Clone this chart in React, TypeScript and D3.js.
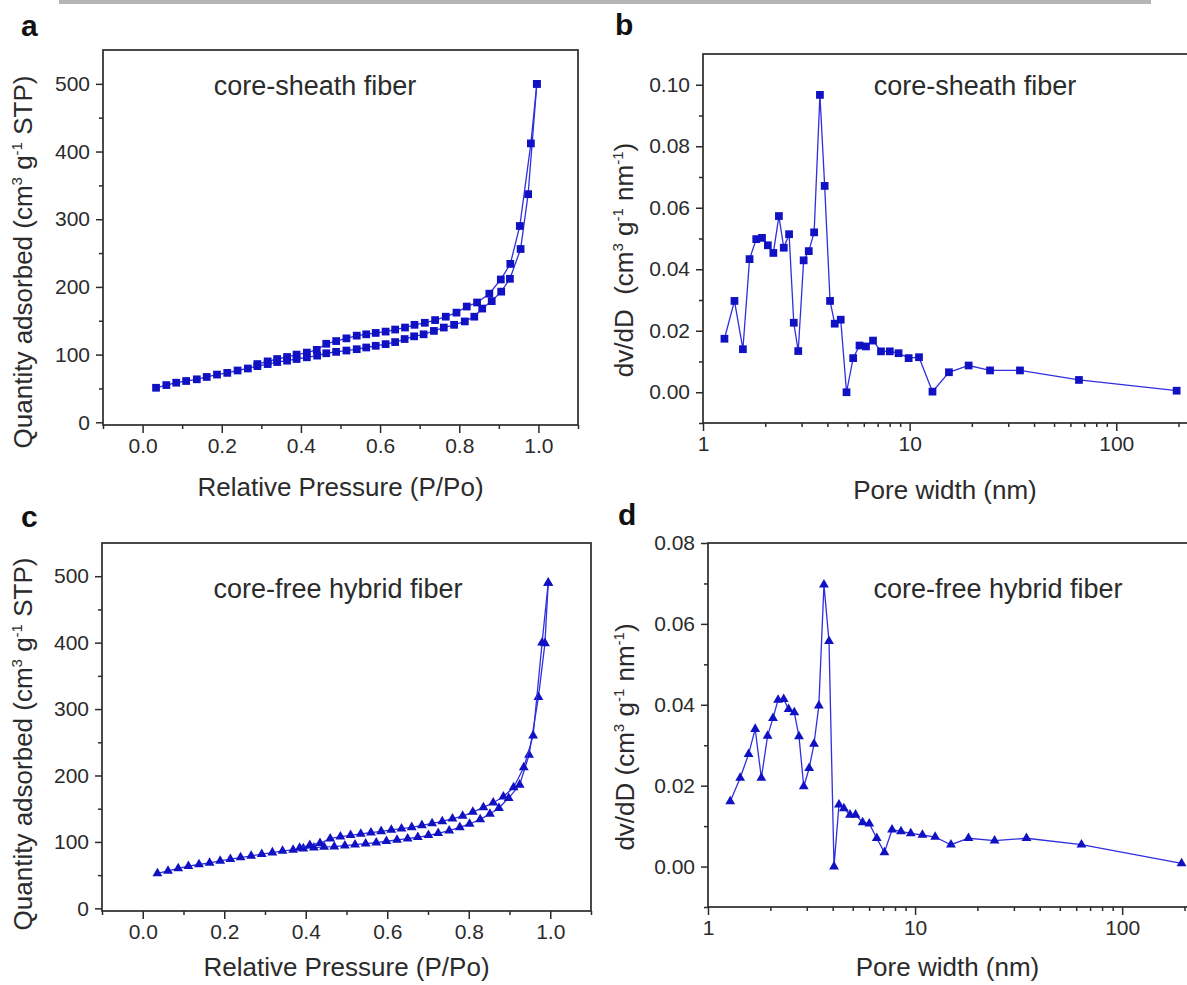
import React, { useRef, useEffect } from "react";
import * as d3 from "d3";

// ---- a: core-sheath fiber, N2 isotherm ----
const aAdsP = [0.034, 0.06, 0.085, 0.11, 0.137, 0.162, 0.188, 0.214, 0.24, 0.266, 0.29, 0.316, 0.34, 0.365, 0.389, 0.415, 0.441, 0.464, 0.489, 0.515, 0.541, 0.565, 0.589, 0.614, 0.638, 0.662, 0.686, 0.71, 0.736, 0.761, 0.787, 0.814, 0.838, 0.858, 0.882, 0.906, 0.928, 0.955, 0.974, 0.996];
const aAdsQ = [51, 55, 58.5, 61, 63.5, 67, 70.5, 73, 76.5, 79.5, 83, 86, 89, 91, 93.5, 96, 98.5, 102, 104, 106, 108, 110.5, 113, 115.5, 118.5, 123, 127, 130, 135, 140, 144, 149, 156, 168, 179, 193, 212, 256, 337, 500];
const aDesP = [0.996, 0.981, 0.953, 0.929, 0.905, 0.876, 0.845, 0.819, 0.793, 0.766, 0.739, 0.713, 0.687, 0.663, 0.638, 0.614, 0.589, 0.565, 0.541, 0.515, 0.489, 0.464, 0.44, 0.415, 0.389, 0.365, 0.34, 0.316, 0.29];
const aDesQ = [500, 412, 290, 234, 211, 190, 177, 171, 162, 156, 151, 147, 144, 140, 137, 134, 132, 130, 128, 124, 120, 116, 107, 103, 100, 96.5, 93.5, 90, 86];

// ---- c: core-free hybrid fiber, N2 isotherm ----
const cAdsP = [0.036, 0.062, 0.087, 0.112, 0.138, 0.164, 0.19, 0.215, 0.24, 0.266, 0.292, 0.318, 0.343, 0.369, 0.394, 0.42, 0.445, 0.47, 0.496, 0.521, 0.547, 0.573, 0.598, 0.624, 0.65, 0.675, 0.701, 0.725, 0.752, 0.778, 0.802, 0.828, 0.852, 0.874, 0.898, 0.925, 0.948, 0.971, 0.987, 0.995];
const cAdsQ = [52.5, 56.5, 60, 63.5, 66, 68.5, 71.5, 74, 76.5, 79, 81.5, 84, 86.5, 88, 90, 91.5, 92.5, 93, 94.5, 96, 97.5, 99, 101, 103, 105, 107, 110, 113, 117, 122, 127, 134, 142, 151, 166, 186, 231, 318, 399, 490];
const cDesP = [0.995, 0.98, 0.958, 0.935, 0.91, 0.885, 0.86, 0.836, 0.81, 0.785, 0.76, 0.735, 0.71, 0.685, 0.66, 0.635, 0.61, 0.585, 0.56, 0.535, 0.51, 0.485, 0.46, 0.435, 0.41, 0.385];
const cDesQ = [490, 400, 260, 212, 182, 168, 159, 152, 145, 139, 135, 131, 128, 125, 122, 120, 118, 116, 114, 112, 110, 108, 105, 98, 95, 91];

// ---- b: core-sheath fiber, pore size distribution ----
const bWidth = [1.27, 1.42, 1.56, 1.68, 1.81, 1.93, 2.06, 2.19, 2.33, 2.46, 2.61, 2.75, 2.89, 3.07, 3.25, 3.45, 3.68, 3.88, 4.12, 4.34, 4.64, 4.95, 5.33, 5.72, 6.15, 6.65, 7.27, 8.02, 8.84, 9.89, 11.1, 12.9, 15.5, 19.3, 24.5, 34.2, 66, 196];
const bDvdD = [0.0174, 0.0297, 0.014, 0.0433, 0.0498, 0.0502, 0.0478, 0.0453, 0.0573, 0.047, 0.0514, 0.0226, 0.0134, 0.0429, 0.0459, 0.052, 0.0967, 0.0671, 0.0297, 0.0223, 0.0236, 0.0, 0.0111, 0.0152, 0.0149, 0.0168, 0.0133, 0.0133, 0.0127, 0.0111, 0.0114, 0.0002, 0.0065, 0.0087, 0.0071, 0.0071, 0.004, 0.0005];

// ---- d: core-free hybrid fiber, pore size distribution ----
const dWidth = [1.28, 1.43, 1.57, 1.69, 1.81, 1.94, 2.06, 2.18, 2.32, 2.45, 2.61, 2.75, 2.9, 3.08, 3.25, 3.43, 3.63, 3.84, 4.06, 4.29, 4.53, 4.85, 5.16, 5.58, 6.01, 6.53, 7.11, 7.74, 8.55, 9.53, 10.85, 12.5, 14.9, 18.1, 24.2, 34.5, 63.6, 193.6];
const dDvdD = [0.0161, 0.0219, 0.0278, 0.034, 0.0219, 0.0323, 0.0367, 0.0412, 0.0414, 0.0389, 0.0381, 0.0322, 0.0198, 0.0243, 0.0303, 0.0398, 0.0697, 0.0557, 0.0, 0.0153, 0.0144, 0.0128, 0.0128, 0.0109, 0.0106, 0.007, 0.0035, 0.0091, 0.0087, 0.0082, 0.0078, 0.0073, 0.0054, 0.007, 0.0064, 0.007, 0.0054, 0.0008];

// ticks
const isoMajorX = [0, 0.2, 0.4, 0.6, 0.8, 1.0];
const isoMinorX = [-0.1, 0.1, 0.3, 0.5, 0.7, 0.9, 1.1];
const isoMajorY = [0, 100, 200, 300, 400, 500];
const isoMinorY = [50, 150, 250, 350, 450];
const psdMajorX = [1, 10, 100];
const psdMinorX = [2, 3, 4, 5, 6, 7, 8, 9, 20, 30, 40, 50, 60, 70, 80, 90, 200];
const bMajorY = [0, 0.02, 0.04, 0.06, 0.08, 0.1];
const bMinorY = [-0.01, 0.01, 0.03, 0.05, 0.07, 0.09];
const dMajorY = [0, 0.02, 0.04, 0.06, 0.08];
const dMinorY = [-0.01, 0.01, 0.03, 0.05, 0.07];

const zip = (xs, ys) => xs.map((v, i) => [v, ys[i]]);

const FONT = "'Liberation Sans', Arial, sans-serif";
const INK = "#2b2b2b";
const LINE = "#2f2fe0";
const MARK = "#1111c4";

const panels = [
  {
    letter: "a", lx: 21, ly: 36,
    l: 103, r: 578, t: 50, b: 425,
    log: false, xDomain: [-0.1, 1.1], yDomain: [-4, 550],
    xMajor: isoMajorX, xMinor: isoMinorX, yMajor: isoMajorY, yMinor: isoMinorY,
    xFmt: d3.format(".1f"), yFmt: d3.format("d"),
    series: [zip(aAdsP, aAdsQ), zip(aDesP, aDesQ)],
    symbol: d3.symbolSquare, symSize: 60,
    note: "core-sheath fiber", noteX: 315, noteY: 95,
    xlabel: "Relative Pressure (P/Po)", xlabelY: 496,
    ylabelParts: [["Quantity adsorbed (cm", 0], ["3", 1], [" g", 0], ["-1", 1], [" STP)", 0]],
    ylabelX: 32, ylabelY: 262,
  },
  {
    letter: "b", lx: 615, ly: 35,
    l: 703, r: 1191, t: 54, b: 423,
    log: true, xDomain: [1, 230], yDomain: [-0.01, 0.11],
    xMajor: psdMajorX, xMinor: psdMinorX, yMajor: bMajorY, yMinor: bMinorY,
    xFmt: d3.format("d"), yFmt: d3.format(".2f"),
    series: [zip(bWidth, bDvdD)],
    symbol: d3.symbolSquare, symSize: 60,
    note: "core-sheath fiber", noteX: 975, noteY: 95,
    xlabel: "Pore width (nm)", xlabelY: 499,
    ylabelParts: [["dv/dD\u00a0\u00a0(cm", 0], ["3", 1], [" g", 0], ["-1", 1], [" nm", 0], ["-1", 1], [")", 0]],
    ylabelX: 633, ylabelY: 260,
  },
  {
    letter: "c", lx: 21, ly: 527,
    l: 102, r: 591, t: 543, b: 911,
    log: false, xDomain: [-0.1, 1.1], yDomain: [-4, 550],
    xMajor: isoMajorX, xMinor: isoMinorX, yMajor: isoMajorY, yMinor: isoMinorY,
    xFmt: d3.format(".1f"), yFmt: d3.format("d"),
    series: [zip(cAdsP, cAdsQ), zip(cDesP, cDesQ)],
    symbol: d3.symbolTriangle, symSize: 42,
    note: "core-free hybrid fiber", noteX: 338, noteY: 598,
    xlabel: "Relative Pressure (P/Po)", xlabelY: 976,
    ylabelParts: [["Quantity adsorbed (cm", 0], ["3", 1], [" g", 0], ["-1", 1], [" STP)", 0]],
    ylabelX: 32, ylabelY: 744,
  },
  {
    letter: "d", lx: 618, ly: 525,
    l: 708, r: 1191, t: 543, b: 907,
    log: true, xDomain: [1, 215], yDomain: [-0.01, 0.08],
    xMajor: psdMajorX, xMinor: psdMinorX, yMajor: dMajorY, yMinor: dMinorY,
    xFmt: d3.format("d"), yFmt: d3.format(".2f"),
    series: [zip(dWidth, dDvdD)],
    symbol: d3.symbolTriangle, symSize: 42,
    note: "core-free hybrid fiber", noteX: 998, noteY: 598,
    xlabel: "Pore width (nm)", xlabelY: 976,
    ylabelParts: [["dv/dD (cm", 0], ["3", 1], [" g", 0], ["-1", 1], [" nm", 0], ["-1", 1], [")", 0]],
    ylabelX: 634, ylabelY: 737,
  },
];

function styleAxis(sel) {
  sel.select(".domain").remove();
  sel.attr("font-family", FONT).attr("font-size", 21).attr("color", INK);
  sel.selectAll("line").attr("stroke-width", 1.5);
}

function drawPanel(svg, p) {
  const g = svg.append("g");
  const x = (p.log ? d3.scaleLog() : d3.scaleLinear()).domain(p.xDomain).range([p.l, p.r]);
  const y = d3.scaleLinear().domain(p.yDomain).range([p.b, p.t]);

  // minor ticks
  g.append("g").attr("transform", `translate(0,${p.b})`)
    .call(d3.axisBottom(x).tickValues(p.xMinor).tickSize(4).tickFormat(() => ""))
    .call(styleAxis);
  g.append("g").attr("transform", `translate(${p.l},0)`)
    .call(d3.axisLeft(y).tickValues(p.yMinor).tickSize(4).tickFormat(() => ""))
    .call(styleAxis);
  // major ticks + labels
  g.append("g").attr("transform", `translate(0,${p.b})`)
    .call(d3.axisBottom(x).tickValues(p.xMajor).tickSize(8).tickPadding(5).tickFormat(p.xFmt))
    .call(styleAxis);
  g.append("g").attr("transform", `translate(${p.l},0)`)
    .call(d3.axisLeft(y).tickValues(p.yMajor).tickSize(7).tickPadding(6).tickFormat(p.yFmt))
    .call(styleAxis);

  // frame
  g.append("rect")
    .attr("x", p.l).attr("y", p.t)
    .attr("width", p.r - p.l).attr("height", p.b - p.t)
    .attr("fill", "none").attr("stroke", INK).attr("stroke-width", 1.7);

  // data
  const line = d3.line().x(d => x(d[0])).y(d => y(d[1]));
  const sym = d3.symbol(p.symbol, p.symSize);
  p.series.forEach(pts => {
    g.append("path").attr("d", line(pts))
      .attr("fill", "none").attr("stroke", LINE).attr("stroke-width", 1.3);
    g.selectAll(null).data(pts).enter().append("path")
      .attr("transform", d => `translate(${x(d[0])},${y(d[1])})`)
      .attr("d", sym())
      .attr("fill", MARK);
  });

  // texts
  g.append("text").attr("x", p.noteX).attr("y", p.noteY)
    .attr("text-anchor", "middle").attr("font-family", FONT).attr("font-size", 27)
    .attr("fill", INK).text(p.note);
  g.append("text").attr("x", (p.l + Math.min(p.r, 1187)) / 2).attr("y", p.xlabelY)
    .attr("text-anchor", "middle").attr("font-family", FONT).attr("font-size", 26)
    .attr("fill", INK).text(p.xlabel);
  const yl = g.append("text")
    .attr("transform", `translate(${p.ylabelX},${p.ylabelY}) rotate(-90)`)
    .attr("text-anchor", "middle").attr("font-family", FONT).attr("font-size", 26)
    .attr("fill", INK);
  let up = false;
  p.ylabelParts.forEach(([txt, sup]) => {
    const ts = yl.append("tspan").text(txt);
    if (sup && !up) { ts.attr("dy", -10).attr("font-size", 15); up = true; }
    else if (sup) { ts.attr("font-size", 15); }
    else if (up) { ts.attr("dy", 10); up = false; }
  });

  g.append("text").attr("x", p.lx).attr("y", p.ly)
    .attr("font-family", FONT).attr("font-size", 30).attr("font-weight", "bold")
    .attr("fill", "#111").text(p.letter);
}

const App = () => {
  const svgRef = useRef(null);

  useEffect(() => {
    const svg = d3.select(svgRef.current);
    svg.selectAll("*").remove();
    svg.append("rect").attr("width", 1187).attr("height", 985).attr("fill", "#fff");
    // grey rule along the top edge
    svg.append("rect").attr("x", 59).attr("y", 0).attr("width", 1092).attr("height", 4).attr("fill", "#b5b5b5");
    panels.forEach(p => drawPanel(svg, p));
  }, []);

  return (
    <svg ref={svgRef} width={1187} height={985}
      style={{ position: "absolute", left: 0, top: 0, display: "block" }} />
  );
};

export default App;
